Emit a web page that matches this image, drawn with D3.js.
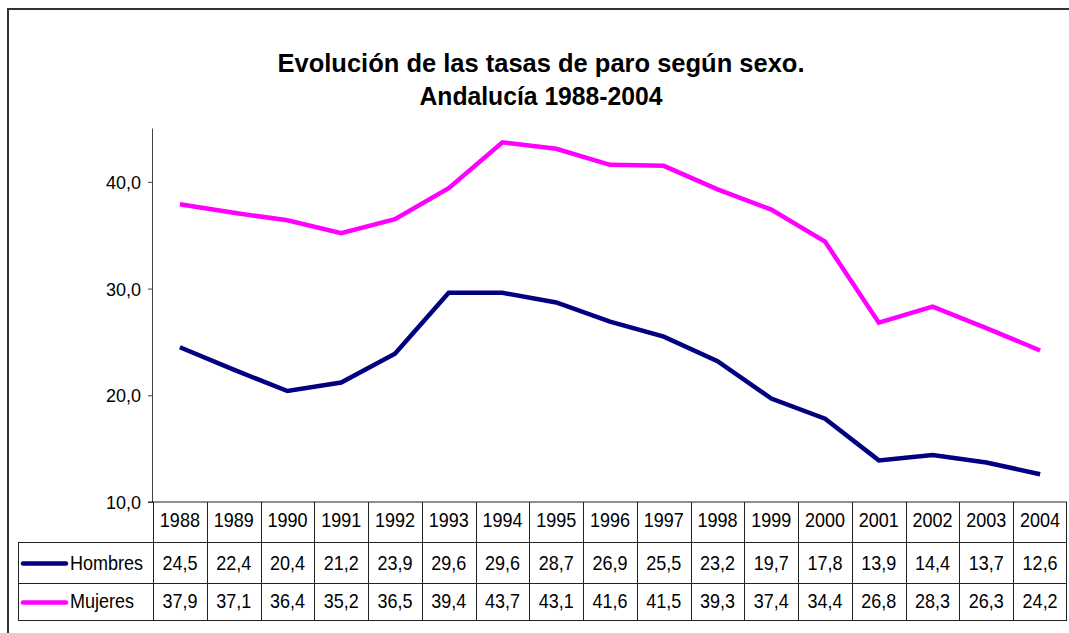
<!DOCTYPE html>
<html>
<head>
<meta charset="utf-8">
<script src="https://cdn.jsdelivr.net/npm/d3@7/dist/d3.min.js"></script>
<style>
html,body{margin:0;padding:0;background:#fff;}
svg{display:block;}
text{font-family:"Liberation Sans",Arial,sans-serif;fill:#000;}
</style>
</head>
<body>
<svg id="chart" width="1069" height="633"></svg>
<script>
const years = ["1988","1989","1990","1991","1992","1993","1994","1995","1996","1997","1998","1999","2000","2001","2002","2003","2004"];
const hombres = [24.5,22.4,20.4,21.2,23.9,29.6,29.6,28.7,26.9,25.5,23.2,19.7,17.8,13.9,14.4,13.7,12.6];
const mujeres = [37.9,37.1,36.4,35.2,36.5,39.4,43.7,43.1,41.6,41.5,39.3,37.4,34.4,26.8,28.3,26.3,24.2];
const yTicks = [10,20,30,40];
const seriesNames = ["Hombres","Mujeres"];
const seriesColors = ["#000080","#FF00FF"];
const titleLines = ["Evolución de las tasas de paro según sexo.","Andalucía 1988-2004"];

const series = [
  {name: seriesNames[0], color: seriesColors[0], values: hombres},
  {name: seriesNames[1], color: seriesColors[1], values: mujeres}
];

const svg = d3.select("#chart");

// outer frame (top and left edges visible)
svg.append("path").attr("d","M8,633 L8,9 L1069,9").attr("fill","none").attr("stroke","#333").attr("stroke-width",2);

// title
const titleY = [72,105];
const titleW = [527,243];
titleLines.forEach((t,i)=>{
  svg.append("text").attr("x",541).attr("y",titleY[i]).attr("text-anchor","middle")
    .attr("font-size",25).attr("font-weight","bold")
    .attr("textLength",titleW[i]).attr("lengthAdjust","spacingAndGlyphs")
    .text(t);
});

const plotLeft = 153, plotRight = 1067, plotTop = 128.5, plotBottom = 502;
const x = d3.scaleBand().domain(years).range([plotLeft, plotRight]);
const y = d3.scaleLinear().domain([10,45]).range([plotBottom, plotTop]);

// y axis
const yAxis = d3.axisLeft(y).tickValues(yTicks).tickSize(5).tickPadding(7)
  .tickFormat(d => d3.format(".1f")(d).replace(".", ","));
const gy = svg.append("g").attr("transform",`translate(${plotLeft},0)`).call(yAxis);
gy.select(".domain").attr("stroke","#444").attr("d",`M-0.5,${plotTop}V${plotBottom}`);
gy.selectAll(".tick line").attr("stroke","#444");
gy.selectAll(".tick text").attr("font-size",18).attr("font-family","Liberation Sans, Arial, sans-serif").attr("fill","#000").attr("dy","0.36em");

// lines
const line = d3.line().x((d,i)=>x(years[i]) + x.bandwidth()/2).y(d=>y(d));
series.forEach(s=>{
  svg.append("path").datum(s.values).attr("d",line).attr("fill","none")
    .attr("stroke",s.color).attr("stroke-width",4.5).attr("stroke-linejoin","miter");
});

// data table
const rowYs = [plotBottom, 542, 583, 620];
const legendLeft = 18;
const tbl = svg.append("g").attr("stroke","#222").attr("stroke-width",1).attr("fill","none");
tbl.append("line").attr("x1",plotLeft-5).attr("x2",plotRight).attr("y1",rowYs[0]).attr("y2",rowYs[0]);
for (let r=1;r<4;r++){
  tbl.append("line").attr("x1",legendLeft).attr("x2",plotRight).attr("y1",rowYs[r]+0.5).attr("y2",rowYs[r]+0.5);
}
years.forEach(yr=>{
  tbl.append("line").attr("x1",Math.round(x(yr))+0.5).attr("x2",Math.round(x(yr))+0.5).attr("y1",rowYs[0]).attr("y2",rowYs[3]);
});
tbl.append("line").attr("x1",plotRight-0.5).attr("x2",plotRight-0.5).attr("y1",rowYs[0]).attr("y2",rowYs[3]);
tbl.append("line").attr("x1",legendLeft+0.5).attr("x2",legendLeft+0.5).attr("y1",rowYs[1]).attr("y2",rowYs[3]);

function cellText(tx, ty, str, anchor){
  svg.append("text").attr("transform",`translate(${tx},${ty}) scale(0.9,1)`)
    .attr("text-anchor",anchor).attr("font-size",20).text(str);
}

years.forEach(yr=>{
  cellText(x(yr)+x.bandwidth()/2, 527, yr, "middle");
});
const rowBase = [570,608];
series.forEach((s,si)=>{
  const ly = (rowYs[si+1]+rowYs[si+2])/2 + 1;
  svg.append("line").attr("x1",23).attr("x2",66).attr("y1",ly).attr("y2",ly)
    .attr("stroke",s.color).attr("stroke-width",4.5).attr("stroke-linecap","round");
  cellText(70, rowBase[si], s.name, "start");
  s.values.forEach((v,i)=>{
    cellText(x(years[i])+x.bandwidth()/2, rowBase[si], d3.format(".1f")(v).replace(".", ","), "middle");
  });
});
</script>
</body>
</html>
